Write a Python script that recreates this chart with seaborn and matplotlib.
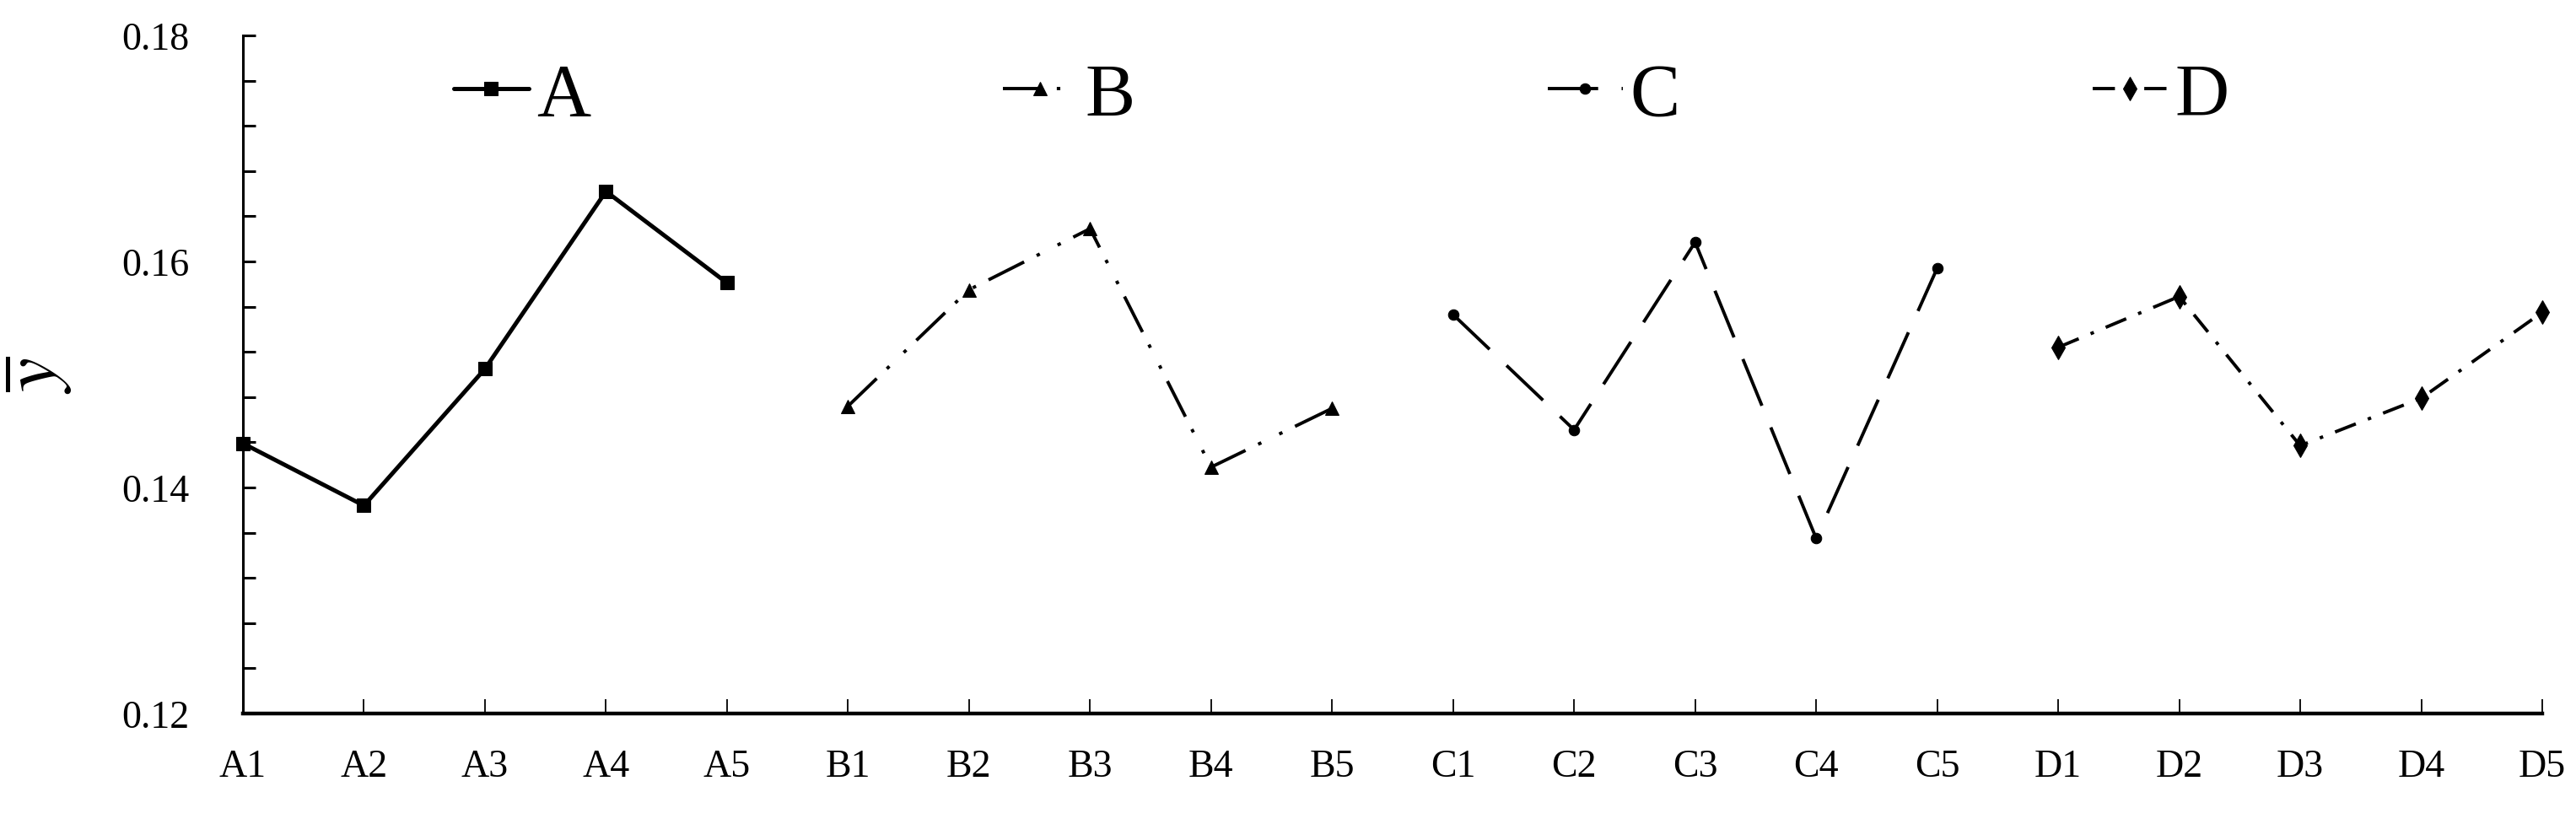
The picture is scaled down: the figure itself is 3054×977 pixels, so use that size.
import numpy as np
import pandas as pd
import matplotlib
matplotlib.use("Agg")
import matplotlib.pyplot as plt
import seaborn as sns

# factor levels and mean response
factors = ["A", "B", "C", "D"]
levels = [f + str(i) for f in factors for i in range(1, 6)]
a_vals = [0.1439, 0.1384, 0.1505, 0.1662, 0.1581]
b_vals = [0.1472, 0.1575, 0.1629, 0.1418, 0.1470]
c_vals = [0.1553, 0.1451, 0.1617, 0.1355, 0.1594]
d_vals = [0.1524, 0.1569, 0.1437, 0.1479, 0.1555]

df = pd.DataFrame({
    "pos": np.arange(len(levels)),
    "level": levels,
    "factor": [l[0] for l in levels],
    "val": a_vals + b_vals + c_vals + d_vals,
})

sns.set_style("ticks")
plt.rcParams["font.family"] = ["Liberation Serif", "DejaVu Serif"]
plt.rcParams["mathtext.fontset"] = "stix"
plt.rcParams["lines.scale_dashes"] = False
for k in ["text.color", "axes.labelcolor", "xtick.color", "ytick.color", "axes.edgecolor"]:
    plt.rcParams[k] = "black"

styles = {
    "A": dict(marker="s", ms=12, lw=3.6, ls="-"),
    "B": dict(marker="^", ms=12, lw=2.8, ls=(0, (34, 12, 3, 17, 3, 12))),
    "C": dict(marker="o", ms=9, lw=2.8, ls=(0, (43, 20))),
    "D": dict(marker="d", ms=14, lw=2.8, ls=(0, (19, 11, 3, 11))),
}

fig = plt.figure(figsize=(30.54, 9.78), dpi=100)
ax = fig.add_axes([288 / 3054, 1 - 847 / 978, (3014 - 288) / 3054, (847 - 43) / 978])

for f in factors:
    s = styles[f]
    sns.lineplot(data=df[df["factor"] == f], x="pos", y="val", ax=ax,
                 color="black", marker=s["marker"], markersize=s["ms"],
                 markeredgecolor="black", linewidth=s["lw"], linestyle=s["ls"],
                 label=f, legend=False, clip_on=False)

ax.set_xlim(0, len(levels) - 1)
ax.set_ylim(0.12, 0.18)
ax.set_xticks(df["pos"])
ax.set_xticklabels(levels)
ax.set_yticks([0.12, 0.14, 0.16, 0.18])
ax.set_yticklabels(["0.12", "0.14", "0.16", "0.18"])
ax.set_yticks(np.arange(0.12, 0.1801, 0.004), minor=True)
ax.tick_params(axis="x", direction="in", length=12, width=1.3, labelsize=33, pad=30)
ax.tick_params(axis="y", which="both", direction="in", length=11, width=2.2,
               labelsize=33, pad=46)
ax.set_xlabel("")
ax.set_ylabel(r"$\overline{y}$", fontsize=66, labelpad=40)
sns.despine(ax=ax)
ax.spines["left"].set_linewidth(2.2)
ax.spines["bottom"].set_linewidth(3.2)

handles = ax.get_lines()[:4]
fig.legend(handles=handles, labels=factors, ncol=4, frameon=False,
           loc="center left", bbox_to_anchor=(538 / 3054, 1 - 115 / 978),
           fontsize=64, handlelength=1.0, handletextpad=0.1,
           columnspacing=5.5, borderpad=0, borderaxespad=0, numpoints=1)

fig.savefig("out.png", dpi=100)
